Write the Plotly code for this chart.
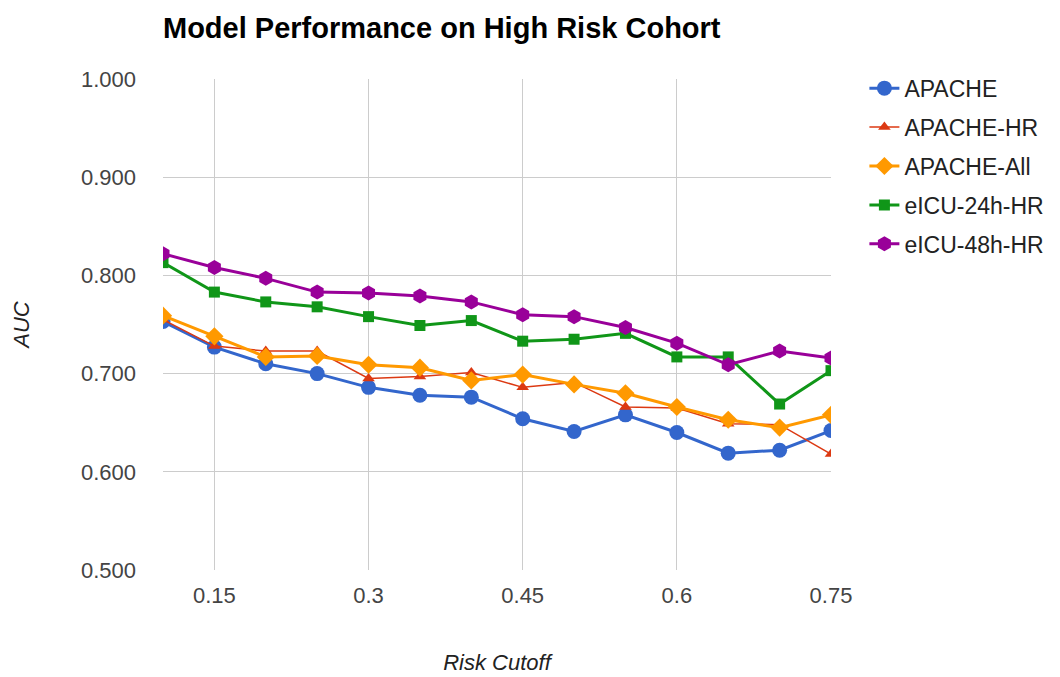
import plotly.graph_objects as go

risk_cutoff = [0.10, 0.15, 0.20, 0.25, 0.30, 0.35, 0.40, 0.45, 0.50, 0.55, 0.60, 0.65, 0.70, 0.75]
apache = [0.753, 0.727, 0.710, 0.700, 0.686, 0.678, 0.676, 0.654, 0.641, 0.658, 0.640, 0.619, 0.622, 0.642]
apache_hr = [0.755, 0.728, 0.723, 0.723, 0.695, 0.697, 0.701, 0.686, 0.691, 0.666, 0.665, 0.649, 0.648, 0.618]
apache_all = [0.759, 0.738, 0.717, 0.718, 0.709, 0.706, 0.693, 0.699, 0.689, 0.680, 0.666, 0.653, 0.645, 0.658]
eicu_24h = [0.813, 0.783, 0.773, 0.768, 0.758, 0.749, 0.754, 0.733, 0.735, 0.741, 0.717, 0.717, 0.669, 0.703]
eicu_48h = [0.822, 0.808, 0.797, 0.783, 0.782, 0.779, 0.773, 0.760, 0.758, 0.747, 0.731, 0.709, 0.723, 0.716]

x_ticks = [0.15, 0.3, 0.45, 0.6, 0.75]
x_tick_labels = ["0.15", "0.3", "0.45", "0.6", "0.75"]
y_ticks = [0.5, 0.6, 0.7, 0.8, 0.9, 1.0]

series = [
    ("APACHE", apache, "#3366cc", "circle", 15, 3),
    ("APACHE-HR", apache_hr, "#dc3912", "triangle-up", 11, 1.5),
    ("APACHE-All", apache_all, "#ff9900", "diamond", 14, 3),
    ("eICU-24h-HR", eicu_24h, "#109618", "square", 11, 3),
    ("eICU-48h-HR", eicu_48h, "#990099", "hexagon", 15, 3),
]

FONT = "Liberation Sans, Arial, sans-serif"

fig = go.Figure()
for i, (name, vals, color, symbol, size, width) in enumerate(series):
    fig.add_trace(go.Scatter(
        x=risk_cutoff, y=vals, name=name, mode="lines+markers",
        line=dict(color=color, width=width),
        marker=dict(color=color, symbol=symbol, size=size, line=dict(width=0)),
        legendgroup=str(i),
    ))

fig.update_layout(
    width=1060, height=677,
    margin=dict(l=163, r=229, t=79, b=107, autoexpand=False),
    paper_bgcolor="white", plot_bgcolor="white",
    font=dict(family=FONT, size=22, color="#444444"),
    title=dict(text="<b>Model Performance on High Risk Cohort</b>",
               x=163 / 1060, xanchor="left", y=1 - 28 / 677, yanchor="middle",
               font=dict(family=FONT, size=29, color="#000000")),
    xaxis=dict(range=[0.1, 0.75], tickvals=x_ticks, ticktext=x_tick_labels,
               showgrid=True, gridcolor="#cccccc", gridwidth=1, automargin=False,
               zeroline=False, showline=False, ticks="", ticklabelstandoff=10,
               title=dict(text="<i>Risk Cutoff</i>", standoff=47,
                          font=dict(family=FONT, size=22, color="#222222"))),
    yaxis=dict(range=[0.5, 1.0], tickvals=y_ticks, tickformat=".3f",
               showgrid=True, gridcolor="#cccccc", gridwidth=1, automargin=False,
               zeroline=False, showline=False, ticks="", ticklabelstandoff=26,
               title=dict(text="<i>AUC</i>", standoff=45,
                          font=dict(family=FONT, size=22, color="#222222"))),
    legend=dict(x=1.05, xanchor="left", y=1.025, yanchor="top",
                traceorder="grouped", tracegroupgap=6,
                font=dict(family=FONT, size=23, color="#222222"),
                bgcolor="rgba(0,0,0,0)"),
)

fig.write_html("out.html")
